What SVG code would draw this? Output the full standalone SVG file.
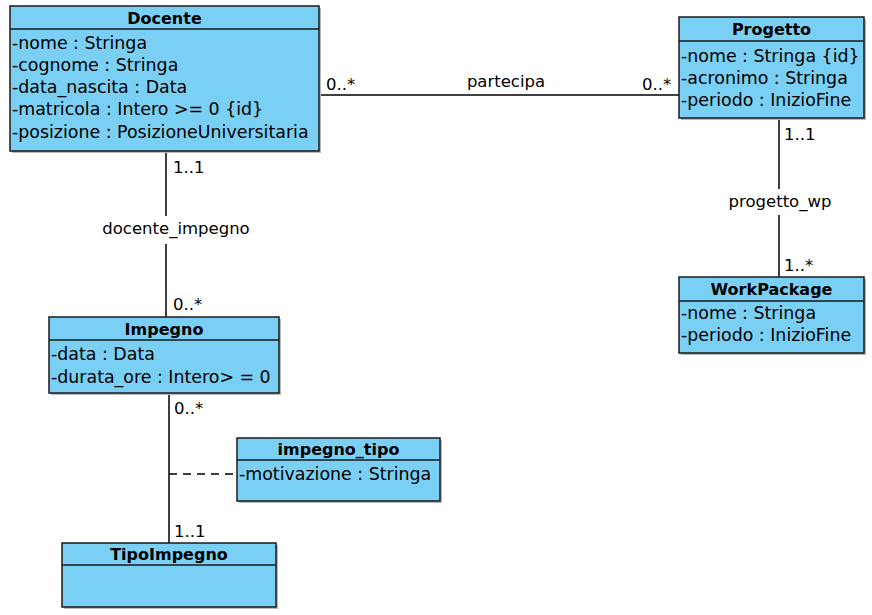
<svg xmlns="http://www.w3.org/2000/svg" width="872" height="615" viewBox="0 0 872 615">
  <style>
    .box { fill: #7acff4; stroke: #1a1a1a; stroke-width: 1.5; }
    .shadow { fill: #b8b8b8; }
    .sep { stroke: #1a1a1a; stroke-width: 1.5; }
    .hdr { font-family: "DejaVu Sans", sans-serif; font-size: 16px; font-weight: bold; text-anchor: middle; fill: #000; }
    .attr { font-family: "DejaVu Sans", sans-serif; font-size: 17.4px; fill: #000; }
    .lbl { font-family: "DejaVu Sans", sans-serif; font-size: 16.5px; fill: #000; }
    .mid { text-anchor: middle; }
    .line { stroke: #000; stroke-width: 1.5; fill: none; }
    .dash { stroke: #000; stroke-width: 1.5; fill: none; stroke-dasharray: 8 6; }
  </style>

  <rect width="872" height="615" fill="#fff"/>

  <!-- connectors -->
  <g id="connectors">
    <!-- partecipa -->
    <line class="line" x1="319" y1="95" x2="679" y2="95"/>
    <text class="lbl" x="326" y="90">0..*</text>
    <text class="lbl mid" x="506" y="87">partecipa</text>
    <text class="lbl" x="642" y="90">0..*</text>

    <!-- docente_impegno -->
    <line class="line" x1="166" y1="151" x2="166" y2="317"/>
    <rect x="98" y="216" width="156" height="28" fill="#fff"/>
    <text class="lbl" x="173" y="173">1..1</text>
    <text class="lbl mid" x="176" y="234">docente_impegno</text>
    <text class="lbl" x="173" y="310">0..*</text>

    <!-- progetto_wp -->
    <line class="line" x1="779" y1="118" x2="779" y2="277"/>
    <rect x="724" y="189" width="112" height="26" fill="#fff"/>
    <text class="lbl" x="784" y="140">1..1</text>
    <text class="lbl mid" x="780" y="207">progetto_wp</text>
    <text class="lbl" x="784" y="271">1..*</text>

    <!-- impegno / TipoImpegno with association class -->
    <line class="line" x1="169" y1="393" x2="169" y2="543"/>
    <line class="dash" x1="169" y1="474" x2="237" y2="474"/>
    <text class="lbl" x="174" y="414">0..*</text>
    <text class="lbl" x="174" y="537">1..1</text>
  </g>

  <!-- Docente -->
  <g id="docente">
    <rect class="shadow" x="12" y="8" width="309" height="145"/>
    <rect class="box" x="10" y="6" width="309" height="145"/>
    <line class="sep" x1="10" y1="29" x2="319" y2="29"/>
    <text class="hdr" x="164.5" y="24">Docente</text>
    <text class="attr" x="12" y="49">-nome : Stringa</text>
    <text class="attr" x="12" y="71">-cognome : Stringa</text>
    <text class="attr" x="12" y="93">-data_nascita : Data</text>
    <text class="attr" x="12" y="115">-matricola : Intero &gt;= 0 {id}</text>
    <text class="attr" x="12" y="138">-posizione : PosizioneUniversitaria</text>
  </g>

  <!-- Progetto -->
  <g id="progetto">
    <rect class="shadow" x="681" y="19" width="185" height="101"/>
    <rect class="box" x="679" y="17" width="185" height="101"/>
    <line class="sep" x1="679" y1="41" x2="864" y2="41"/>
    <text class="hdr" x="771.5" y="35">Progetto</text>
    <text class="attr" x="681" y="62">-nome : Stringa {id}</text>
    <text class="attr" x="681" y="84">-acronimo : Stringa</text>
    <text class="attr" x="681" y="106">-periodo : InizioFine</text>
  </g>

  <!-- WorkPackage -->
  <g id="workpackage">
    <rect class="shadow" x="681" y="279" width="185" height="76"/>
    <rect class="box" x="679" y="277" width="185" height="76"/>
    <line class="sep" x1="679" y1="301" x2="864" y2="301"/>
    <text class="hdr" x="771.5" y="295">WorkPackage</text>
    <text class="attr" x="681" y="319">-nome : Stringa</text>
    <text class="attr" x="681" y="341">-periodo : InizioFine</text>
  </g>

  <!-- Impegno -->
  <g id="impegno">
    <rect class="shadow" x="51" y="319" width="230" height="76"/>
    <rect class="box" x="49" y="317" width="230" height="76"/>
    <line class="sep" x1="49" y1="340" x2="279" y2="340"/>
    <text class="hdr" x="164" y="335">Impegno</text>
    <text class="attr" x="51" y="360">-data : Data</text>
    <text class="attr" x="51" y="383">-durata_ore : Intero&gt; = 0</text>
  </g>

  <!-- impegno_tipo (association class) -->
  <g id="impegno_tipo">
    <rect class="shadow" x="239" y="440" width="203" height="63"/>
    <rect class="box" x="237" y="438" width="203" height="63"/>
    <line class="sep" x1="237" y1="460" x2="440" y2="460"/>
    <text class="hdr" x="338.5" y="455">impegno_tipo</text>
    <text class="attr" x="239" y="480">-motivazione : Stringa</text>
  </g>

  <!-- TipoImpegno -->
  <g id="tipoimpegno">
    <rect class="shadow" x="64" y="545" width="214" height="64"/>
    <rect class="box" x="62" y="543" width="214" height="64"/>
    <line class="sep" x1="62" y1="565" x2="276" y2="565"/>
    <text class="hdr" x="169" y="560">TipoImpegno</text>
  </g>
</svg>
